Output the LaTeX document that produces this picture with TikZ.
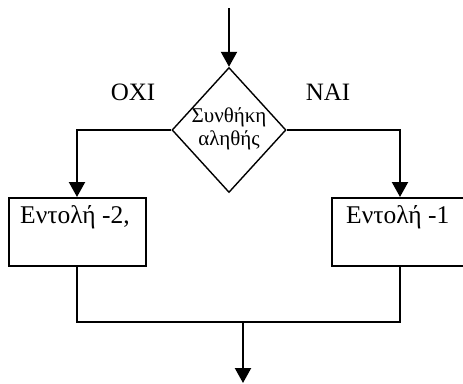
\documentclass[tikz,border=0pt]{standalone}
\usepackage{fontspec}
\setmainfont{Liberation Serif}
\usetikzlibrary{arrows.meta,shapes.geometric}
\tikzset{
  flow/.style={line width=2.2pt,-{Triangle[width=16pt,length=15pt]}},
  plain/.style={line width=2pt},
  boxst/.style={draw,line width=1.6pt,rectangle,minimum width=137pt,minimum height=68pt,inner sep=0pt},
  boxtext/.style={font=\fontsize{25.5}{28}\selectfont,inner sep=0pt,anchor=base west},
  lab/.style={font=\fontsize{25}{28}\selectfont,inner sep=0pt,anchor=base}
}
\begin{document}
\begin{tikzpicture}[x=1pt,y=-1pt]
\clip (0,0) rectangle (463,383);
\fill[white] (0,0) rectangle (463,383);
% diamond
\node[draw,diamond,line width=1.4pt,minimum width=114pt,minimum height=125pt,inner sep=0pt,aspect=0.91] (cond) at (229,130) {};
\node[font=\fontsize{21}{23}\selectfont,inner sep=0pt,anchor=base] (c1) at (229,122) {Συνθήκη};
\node[font=\fontsize{21}{23}\selectfont,inner sep=0pt,anchor=base] (c2) at (229,145) {αληθής};
% boxes
\node[boxst,anchor=north west] (b2) at (8,197) {};
\node[boxst,anchor=north west] (b1) at (331,197) {};
\node[boxtext] (t2) at (20,223) {Εντολή -2,};
\node[boxtext] (t1) at (346,223) {Εντολή -1};
% labels
\node[lab] (oxi) at (133,100) {ΟΧΙ};
\node[lab] (nai) at (328,100) {ΝΑΙ};
% connectors
\coordinate (start) at (229,8);
\coordinate (lc) at (77,130);
\coordinate (rc) at (400,130);
\coordinate (jl) at (77,322);
\coordinate (jr) at (400,322);
\coordinate (jm) at (243,322);
\coordinate (endp) at (243,383);
\draw[flow] (start) -- (cond.north);
\draw[flow] (cond.west) -- (lc) -- (b2.north -| lc);
\draw[flow] (cond.east) -- (rc) -- (b1.north -| rc);
\draw[plain] (b2.south -| jl) -- (jl) -- (jr) -- (b1.south -| jr);
\draw[flow] (jm) -- (endp);
\end{tikzpicture}
\end{document}
